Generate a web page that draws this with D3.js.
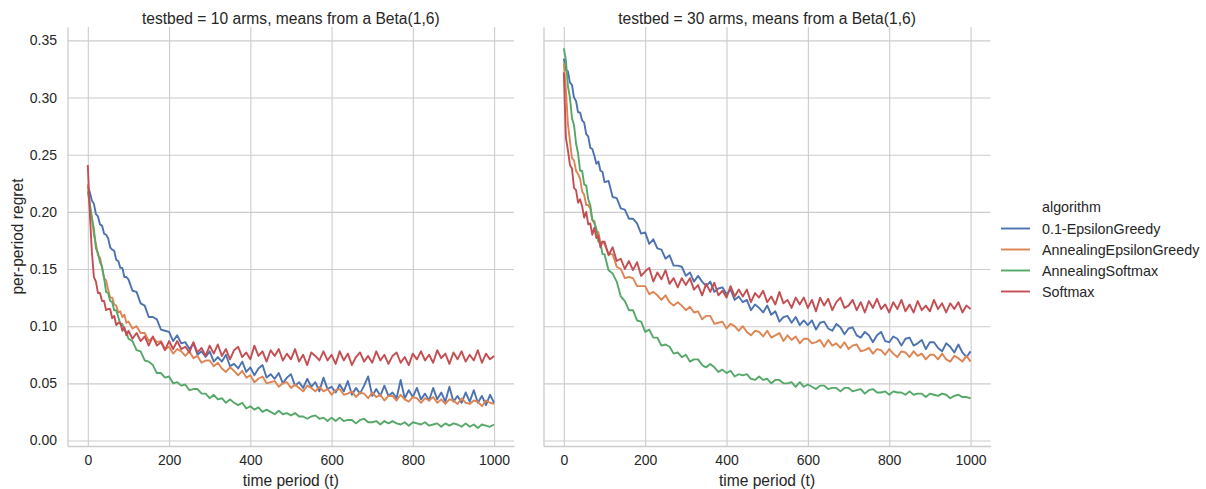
<!DOCTYPE html>
<html><head><meta charset="utf-8">
<script src="https://cdn.jsdelivr.net/npm/d3@7"></script>
<style>
html,body{margin:0;padding:0;background:#fff;}
svg{display:block;font-family:"Liberation Sans",Arial,sans-serif;}
</style></head>
<body><svg id="chart" width="1206" height="489"></svg>
<script>
const algorithms = ["0.1-EpsilonGreedy","AnnealingEpsilonGreedy","AnnealingSoftmax","Softmax"];
const colors = ["#4c72b0","#dd8452","#55a868","#c44e52"];
const panelTitles = ["testbed = 10 arms, means from a Beta(1,6)","testbed = 30 arms, means from a Beta(1,6)"];
const xTicks = [0,200,400,600,800,1000];
const yTicks = [0,0.05,0.10,0.15,0.20,0.25,0.30,0.35];
const T = [0,5,10,15,20,25,30,35,40,45,50,55,60,65,70,75,80,85,90,95,100,
110,120,130,140,150,160,170,180,190,200,210,220,230,240,250,260,270,280,290,300,
310,320,330,340,350,360,370,380,390,400,410,420,430,440,450,460,470,480,490,500,
510,520,530,540,550,560,570,580,590,600,610,620,630,640,650,660,670,680,690,700,
710,720,730,740,750,760,770,780,790,800,810,820,830,840,850,860,870,880,890,900,
910,920,930,940,950,960,970,980,990,1000];

// testbed = 10 arms
const arms10_eps = [.222,.217,.210,.207,.198,.196,.189,.188,.181,.180,.177,.169,.167,.166,.158,.157,.151,.151,.143,.143,.141,
.131,.130,.120,.118,.108,.108,.106,.097,.096,.095,
.087,.092,.085,.086,.080,.085,.075,.078,.073,.078,
.069,.073,.069,.075,.065,.067,.063,.069,.060,.064,
.057,.063,.066,.055,.058,.054,.059,.050,.055,.058,
.048,.051,.046,.054,.047,.051,.043,.055,.045,.047,
.042,.049,.043,.052,.040,.046,.041,.048,.056,.039,
.045,.039,.048,.039,.042,.037,.053,.037,.044,.038,
.046,.036,.041,.035,.046,.036,.042,.034,.047,.034,
.039,.033,.042,.034,.044,.033,.039,.031,.040,.033];
const arms10_annEps = [.224,.204,.194,.180,.172,.162,.160,.151,.142,.140,.132,.125,.125,.119,.118,.112,.113,.108,.110,.103,.104,
.098,.100,.094,.094,.087,.090,.086,.087,.080,.082,
.076,.080,.078,.074,.078,.072,.074,.068,.070,.070,
.065,.068,.063,.060,.064,.061,.057,.061,.055,.057,
.051,.054,.056,.050,.051,.052,.047,.050,.051,.046,
.049,.046,.043,.048,.046,.043,.047,.043,.045,.040,
.044,.045,.040,.041,.043,.038,.042,.041,.037,.042,
.038,.040,.035,.039,.039,.035,.040,.036,.034,.038,
.037,.033,.037,.035,.038,.033,.036,.032,.036,.035,
.032,.037,.033,.032,.035,.034,.030,.035,.033,.032];
const arms10_annSoft = [.218,.207,.195,.185,.168,.164,.156,.152,.142,.130,.129,.122,.121,.114,.114,.108,.102,.102,.096,.095,.089,
.087,.079,.078,.070,.069,.066,.059,.059,.055,.056,
.050,.051,.048,.049,.044,.045,.045,.041,.041,.037,
.040,.036,.037,.033,.036,.033,.031,.033,.028,.030,
.027,.029,.025,.027,.025,.023,.026,.023,.024,.022,
.024,.021,.021,.019,.021,.022,.019,.020,.017,.020,
.017,.020,.017,.018,.018,.015,.018,.019,.016,.016,
.017,.014,.017,.015,.017,.015,.014,.016,.013,.016,
.015,.014,.016,.013,.014,.015,.012,.015,.013,.015,
.014,.012,.015,.012,.014,.011,.014,.013,.012,.014];
const arms10_soft = [.241,.198,.165,.143,.139,.129,.129,.122,.122,.114,.115,.115,.107,.109,.101,.103,.103,.096,.099,.092,.096,
.089,.094,.087,.091,.083,.091,.083,.086,.079,.087,
.080,.087,.080,.082,.077,.086,.077,.081,.074,.083,
.076,.084,.074,.080,.071,.079,.082,.073,.077,.071,
.083,.074,.078,.069,.079,.074,.080,.070,.076,.071,
.080,.069,.075,.066,.077,.074,.070,.078,.070,.075,
.067,.078,.070,.076,.066,.073,.077,.069,.074,.068,
.078,.070,.075,.067,.074,.077,.068,.073,.066,.076,
.071,.078,.070,.075,.068,.079,.072,.076,.067,.077,
.071,.078,.069,.075,.070,.079,.068,.076,.071,.074];

// testbed = 30 arms
const arms30_eps = [.334,.324,.323,.313,.311,.300,.297,.287,.287,.280,.278,.268,.266,.256,.255,.249,.242,.244,.236,.235,.226,
.227,.213,.212,.203,.202,.194,.194,.190,.181,.182,
.172,.176,.168,.167,.159,.162,.153,.153,.152,.144,
.147,.139,.144,.139,.135,.139,.130,.133,.134,.128,
.132,.123,.126,.121,.123,.114,.119,.116,.112,.118,
.110,.113,.104,.108,.109,.103,.108,.101,.105,.101,
.105,.097,.103,.104,.098,.096,.102,.099,.093,.098,
.099,.092,.090,.095,.092,.086,.092,.095,.087,.086,
.091,.089,.083,.089,.090,.083,.085,.088,.080,.086,
.086,.081,.078,.085,.082,.077,.084,.077,.073,.078];
const arms30_annEps = [.330,.307,.277,.262,.247,.245,.236,.233,.229,.218,.215,.206,.206,.203,.193,.192,.183,.182,.173,.174,.172,
.163,.163,.152,.150,.142,.143,.142,.135,.135,.135,
.128,.130,.127,.123,.127,.121,.118,.121,.118,.114,
.117,.112,.113,.106,.109,.109,.102,.103,.104,.098,
.102,.100,.096,.100,.095,.092,.096,.095,.091,.096,
.090,.092,.094,.087,.092,.088,.091,.085,.089,.089,
.085,.086,.088,.082,.088,.083,.085,.081,.086,.080,
.083,.084,.078,.079,.081,.076,.080,.079,.075,.080,
.076,.073,.078,.077,.073,.078,.074,.076,.071,.075,
.075,.071,.076,.071,.069,.074,.072,.069,.074,.069];
const arms30_annSoft = [.343,.333,.310,.300,.282,.276,.260,.251,.236,.236,.224,.223,.211,.206,.193,.190,.185,.174,.173,.163,.163,
.149,.146,.139,.126,.122,.114,.114,.105,.104,.095,
.097,.090,.090,.083,.084,.082,.076,.077,.073,.075,
.069,.071,.071,.066,.064,.067,.064,.060,.062,.059,
.061,.056,.058,.057,.058,.054,.053,.056,.053,.054,
.050,.053,.053,.050,.050,.051,.047,.051,.047,.049,
.047,.045,.048,.048,.045,.046,.046,.043,.046,.046,
.043,.044,.045,.041,.044,.045,.042,.042,.043,.040,
.043,.042,.042,.040,.043,.040,.041,.041,.038,.041,
.040,.039,.041,.040,.037,.039,.040,.038,.038,.037];
const arms30_soft = [.322,.265,.254,.241,.238,.221,.219,.208,.211,.205,.195,.200,.189,.190,.180,.186,.177,.179,.169,.174,.174,
.162,.169,.157,.159,.150,.157,.149,.156,.144,.148,
.151,.139,.147,.141,.149,.137,.142,.134,.142,.136,
.142,.132,.136,.127,.137,.130,.138,.127,.131,.125,
.135,.126,.132,.126,.132,.121,.129,.125,.131,.121,
.126,.119,.130,.120,.123,.116,.125,.119,.125,.116,
.123,.113,.125,.118,.124,.114,.121,.125,.116,.118,
.123,.114,.121,.112,.122,.116,.124,.115,.119,.112,
.121,.115,.123,.113,.119,.112,.122,.114,.118,.113,
.123,.115,.120,.112,.120,.115,.121,.112,.118,.115];

const panelSeries = [
  [arms10_eps, arms10_annEps, arms10_annSoft, arms10_soft],
  [arms30_eps, arms30_annEps, arms30_annSoft, arms30_soft]
];

const svg = d3.select("#chart");
const plotTop = 27, plotBottom = 446;
const panelX = [[67.5, 514], [543.5, 990.5]];
const y = d3.scaleLinear().domain([-0.0048, 0.3617]).range([plotBottom, plotTop]);
const gridColor = "#cccccc", textColor = "#262626";

panelX.forEach((px, pi) => {
  const x = d3.scaleLinear().domain([-50, 1049]).range(px);
  const g = svg.append("g");

  const ya = g.append("g").attr("transform", `translate(${px[0]},0)`)
    .call(d3.axisLeft(y).tickValues(yTicks).tickSize(-(px[1]-px[0])).tickSizeOuter(0)
      .tickPadding(10.5).tickFormat(pi === 0 ? d3.format(".2f") : () => ""));
  ya.selectAll(".tick line").attr("stroke", gridColor).attr("stroke-width", 1.1);
  ya.select(".domain").attr("stroke", gridColor).attr("stroke-width", 1.3);
  ya.selectAll("text").attr("fill", textColor).style("font-size", "14px");

  const xa = g.append("g").attr("transform", `translate(0,${plotBottom})`)
    .call(d3.axisBottom(x).tickValues(xTicks).tickSize(-(plotBottom-plotTop)).tickSizeOuter(0)
      .tickPadding(9).tickFormat(d3.format("d")));
  xa.selectAll(".tick line").attr("stroke", gridColor).attr("stroke-width", 1.1);
  xa.select(".domain").attr("stroke", gridColor).attr("stroke-width", 1.3);
  xa.selectAll("text").attr("fill", textColor).style("font-size", "14px");

  const line = d3.line().x((d, i) => x(T[i])).y(d => y(d));
  panelSeries[pi].forEach((vals, si) => {
    g.append("path").datum(vals).attr("d", line)
      .attr("fill", "none").attr("stroke", colors[si])
      .attr("stroke-width", 1.9).attr("stroke-linejoin", "round");
  });

  g.append("text").attr("x", (px[0]+px[1])/2).attr("y", 19).attr("dy", "0.35em")
    .attr("text-anchor", "middle").attr("fill", textColor).style("font-size", "15.6px")
    .text(panelTitles[pi]);
  g.append("text").attr("x", (px[0]+px[1])/2).attr("y", 481).attr("dy", "0.35em")
    .attr("text-anchor", "middle").attr("fill", textColor).style("font-size", "15.6px")
    .text("time period (t)");
});

svg.append("text").attr("transform", `translate(17.5,${(plotTop+plotBottom)/2}) rotate(-90)`)
  .attr("dy", "0.35em").attr("text-anchor", "middle").attr("fill", textColor)
  .style("font-size", "15.6px").text("per-period regret");

const lg = svg.append("g");
lg.append("text").attr("x", 1042).attr("y", 207).attr("dy", "0.35em")
  .attr("fill", textColor).style("font-size", "14.3px").text("algorithm");
algorithms.forEach((name, i) => {
  const yy = 228.5 + i * 21;
  lg.append("line").attr("x1", 1001).attr("x2", 1030).attr("y1", yy).attr("y2", yy)
    .attr("stroke", colors[i]).attr("stroke-width", 1.9);
  lg.append("text").attr("x", 1042).attr("y", yy).attr("dy", "0.35em")
    .attr("fill", textColor).style("font-size", "14.3px").text(name);
});
</script></body></html>
